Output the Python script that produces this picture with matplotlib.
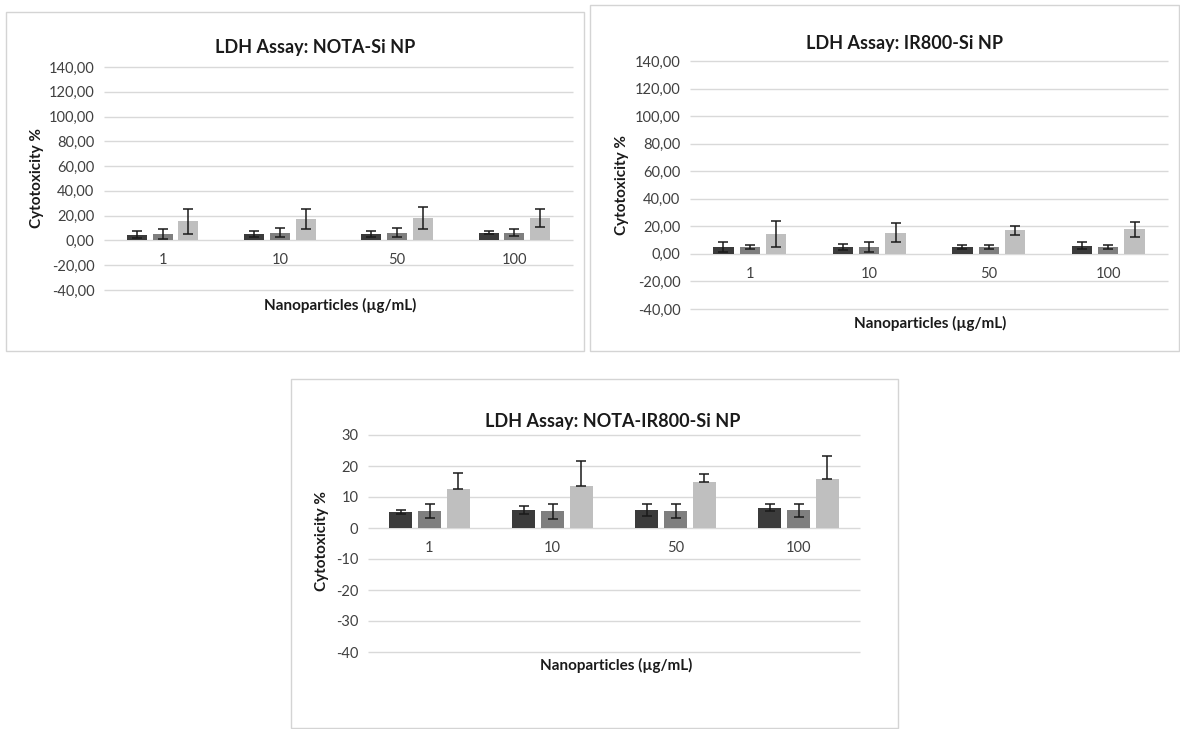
import matplotlib.pyplot as plt
import numpy as np

plt.rcParams['font.family'] = ['Lato', 'DejaVu Sans']

W, H = 1180, 729

categories = ['1', '10', '50', '100']
colors = ['#3b3b3b', '#7f7f7f', '#bfbfbf']

# NOTA-Si NP
nota_vals = [[4.7, 5.5, 5.5, 6.3],
             [5.5, 6.3, 6.3, 6.3],
             [15.6, 17.3, 18.1, 18.1]]
nota_err = [[3.0, 2.5, 2.5, 1.5],
            [4.0, 3.5, 3.5, 3.0],
            [10.0, 7.8, 9.0, 7.5]]

# IR800-Si NP
ir_vals = [[5.0, 5.0, 5.0, 6.0],
           [5.0, 5.0, 5.0, 5.0],
           [14.5, 15.3, 17.0, 17.8]]
ir_err = [[3.3, 2.5, 1.5, 2.3],
          [1.5, 3.3, 1.5, 1.5],
          [9.5, 7.0, 3.0, 5.6]]

# NOTA-IR800-Si NP (light series shows only upper error)
both_vals = [[5.1, 5.8, 5.8, 6.5],
             [5.4, 5.4, 5.4, 5.8],
             [12.6, 13.4, 14.9, 15.7]]
both_err = [[0.7, 1.3, 1.8, 1.1],
            [2.3, 2.5, 2.2, 2.1],
            [5.3, 8.2, 2.6, 7.6]]
both_upper_only = [False, False, True]


def px_rect(x0, y0, x1, y1):
    return [x0 / W, 1 - y1 / H, (x1 - x0) / W, (y1 - y0) / H]


def frame(fig, x0, y0, x1, y1):
    r = plt.Rectangle((x0 / W, 1 - y1 / H), (x1 - x0) / W, (y1 - y0) / H,
                      transform=fig.transFigure, fill=False,
                      edgecolor='#d4d4d4', lw=1.0)
    fig.patches.append(r)


def panel(fig, rect, vals, errs, ylim, step, fmt, title, title_xy,
          ylab_xy, xlab_xy, width, stride, upper_only=(False, False, False)):
    ax = fig.add_axes(px_rect(*rect))
    x = np.arange(len(categories))
    ticks = np.arange(ylim[0], ylim[1] + step / 2, step)
    ax.hlines(ticks, -0.5, len(categories) - 0.5, color='#d9d9d9', lw=1.0,
              zorder=0, clip_on=False)
    for i in range(3):
        pos = x + (i - 1) * stride
        e = np.array(errs[i])
        yerr = np.vstack([np.zeros_like(e), e]) if upper_only[i] else e
        ax.bar(pos, vals[i], width, color=colors[i], edgecolor='none',
               zorder=3)
        ax.errorbar(pos, vals[i], yerr=yerr, fmt='none', ecolor='#1a1a1a',
                    elinewidth=1.1, capsize=3.5, capthick=1.1, zorder=4)
    ax.set_xlim(-0.5, len(categories) - 0.5)
    ax.set_ylim(*ylim)
    ax.set_yticks(ticks)
    ax.set_yticklabels([fmt(t) for t in ticks], color='#404040', fontsize=10.5)
    ax.tick_params(axis='y', length=0, pad=7)
    ax.set_xticks([])
    for s in ax.spines.values():
        s.set_visible(False)
    for i, c in enumerate(categories):
        ax.annotate(c, (i, 0), xytext=(0, -20), textcoords='offset pixels',
                    ha='center', va='center', fontsize=10.5, color='#404040')
    fig.text(title_xy[0] / W, 1 - title_xy[1] / H, title, ha='center',
             va='center', fontsize=13, fontweight='bold', color='#1a1a1a')
    fig.text(ylab_xy[0] / W, 1 - ylab_xy[1] / H, 'Cytotoxicity %',
             rotation=90, ha='center', va='center', fontsize=11,
             fontweight='bold', color='#1a1a1a')
    fig.text(xlab_xy[0] / W, 1 - xlab_xy[1] / H, 'Nanoparticles (µg/mL)',
             ha='center', va='center', fontsize=11, fontweight='bold',
             color='#1a1a1a')
    return ax


fig = plt.figure(figsize=(W / 100, H / 100), dpi=100)

frame(fig, 6, 12, 584, 351)
frame(fig, 590, 5, 1179, 351)
frame(fig, 291, 379, 898, 728)

comma = lambda t: f'{t:.2f}'.replace('.', ',')

panel(fig, (104, 67, 573, 290), nota_vals, nota_err, (-40, 140), 20, comma,
      'LDH Assay: NOTA-Si NP', (315, 48), (37, 178), (340, 305), 0.17, 0.22)
panel(fig, (690, 61, 1168, 309), ir_vals, ir_err, (-40, 140), 20, comma,
      'LDH Assay: IR800-Si NP', (905, 43), (622, 185), (930, 323), 0.17, 0.22)
panel(fig, (368, 435, 860, 652), both_vals, both_err, (-40, 30), 10,
      lambda t: f'{t:.0f}', 'LDH Assay: NOTA-IR800-Si NP', (613, 421),
      (322, 541), (616, 665), 0.19, 0.235, both_upper_only)

fig.savefig('out.png', dpi=100)
